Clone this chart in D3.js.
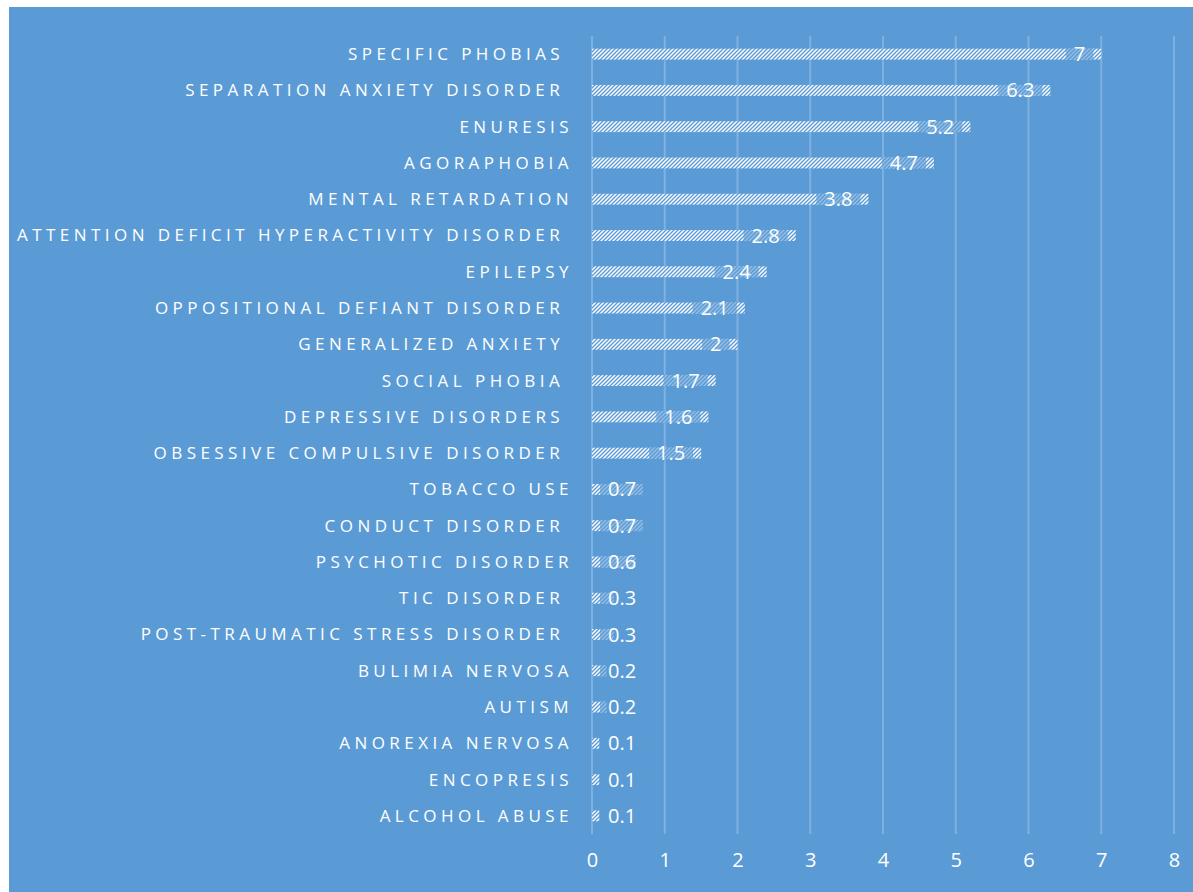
<!DOCTYPE html>
<html>
<head>
<meta charset="utf-8">
<script src="https://cdn.jsdelivr.net/npm/d3@7"></script>
<style>
  html, body { margin: 0; padding: 0; background: #ffffff; }
  svg text { white-space: pre; }
</style>
</head>
<body>
<svg id="chart" width="1193" height="892"></svg>
<script>
const categories = [
  "SPECIFIC PHOBIAS ", "SEPARATION ANXIETY DISORDER ", "ENURESIS", "AGORAPHOBIA",
  "MENTAL RETARDATION", "ATTENTION DEFICIT HYPERACTIVITY DISORDER ", "EPILEPSY",
  "OPPOSITIONAL DEFIANT DISORDER ", "GENERALIZED ANXIETY ", "SOCIAL PHOBIA ",
  "DEPRESSIVE DISORDERS ", "OBSESSIVE COMPULSIVE DISORDER ", "TOBACCO USE",
  "CONDUCT DISORDER ", "PSYCHOTIC DISORDER", "TIC DISORDER ",
  "POST-TRAUMATIC STRESS DISORDER ", "BULIMIA NERVOSA", "AUTISM",
  "ANOREXIA NERVOSA", "ENCOPRESIS", "ALCOHOL ABUSE"
];
const values = [7, 6.3, 5.2, 4.7, 3.8, 2.8, 2.4, 2.1, 2, 1.7, 1.6, 1.5, 0.7, 0.7, 0.6, 0.3, 0.3, 0.2, 0.2, 0.1, 0.1, 0.1];
const xTicks = [0, 1, 2, 3, 4, 5, 6, 7, 8];

const data = categories.map((c, i) => ({ cat: c, val: values[i] }));

const svg = d3.select("#chart");
const bg = "#5b9bd5";
const font = "'Open Sans', 'Liberation Sans', sans-serif";

svg.append("rect").attr("x", 9).attr("y", 7).attr("width", 1184).attr("height", 885).attr("fill", bg);

const defs = svg.append("defs");
const pat = defs.append("pattern").attr("id", "hatch").attr("patternUnits", "userSpaceOnUse")
  .attr("width", 4).attr("height", 4);
pat.append("rect").attr("width", 4).attr("height", 4).attr("fill", "#ffffff");
pat.append("path").attr("d", "M-1,1 l2,-2 M0,4 l4,-4 M3,5 l2,-2")
  .attr("stroke", bg).attr("stroke-width", 1.4);

const x = d3.scaleLinear().domain([0, 8]).range([592, 1174]);
const y = d3.scaleBand().domain(categories).range([36, 834]).paddingInner(0.7).paddingOuter(0.35);

// gridlines
svg.append("g").selectAll("line").data(xTicks).join("line")
  .attr("x1", d => x(d)).attr("x2", d => x(d))
  .attr("y1", 36).attr("y2", 834)
  .attr("stroke", "#7fb1e0").attr("stroke-width", 2);

// x axis labels
const xAxis = d3.axisBottom(x).tickValues(xTicks).tickSize(0).tickPadding(0).tickFormat(d3.format("d"));
const gx = svg.append("g").attr("transform", "translate(0,853)").call(xAxis);
gx.select(".domain").remove();
gx.selectAll("text").attr("fill", "#ffffff").attr("font-family", font).attr("font-size", 20);

// y axis labels
const yAxis = d3.axisLeft(y).tickSize(0).tickPadding(0);
const gy = svg.append("g").attr("transform", "translate(573,0)").call(yAxis);
gy.select(".domain").remove();
gy.selectAll("text").attr("fill", "#ffffff").attr("font-family", font).attr("font-size", 17)
  .attr("letter-spacing", "4.45px").attr("dy", "0.35em");

// bars
svg.append("g").selectAll("rect").data(data).join("rect")
  .attr("x", x(0)).attr("y", d => y(d.cat))
  .attr("width", d => x(d.val) - x(0)).attr("height", y.bandwidth())
  .attr("fill", "url(#hatch)");

// value labels
const lg = svg.append("g");
data.forEach(d => {
  const g = lg.append("g");
  const t = g.append("text").text(d3.format("")(d.val))
    .attr("font-family", font).attr("font-size", 20).attr("fill", "#ffffff")
    .attr("text-anchor", "middle").attr("dy", "0.35em")
    .attr("y", y(d.cat) + y.bandwidth() / 2);
  const w = t.node().getComputedTextLength();
  const boxW = w + 16;
  const right = Math.max(x(d.val) - 8, x(0) + 8 + boxW);
  const left = right - boxW;
  t.attr("x", left + boxW / 2);
  g.insert("rect", "text").attr("x", left).attr("y", y(d.cat))
    .attr("width", boxW).attr("height", y.bandwidth())
    .attr("fill", bg).attr("fill-opacity", 0.65);
});
</script>
</body>
</html>
